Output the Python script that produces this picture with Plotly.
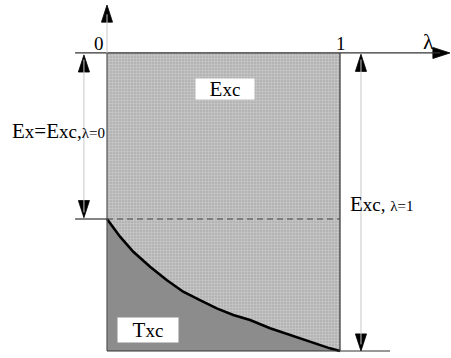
import plotly.graph_objects as go

# coupling constant lambda and the curve bounding T_xc, in units where
# E_x = 1 (dashed line) and the bottom of the box is 0
lam = [0.0, 0.056, 0.113, 0.185, 0.256, 0.327, 0.399, 0.471, 0.542,
       0.614, 0.700, 0.785, 0.871, 0.957, 1.0]
curve = [1.0, 0.866, 0.752, 0.639, 0.538, 0.449, 0.386, 0.323, 0.273,
         0.235, 0.172, 0.121, 0.070, 0.020, 0.0]

box_top = 2.258       # level of the lambda axis
ex_level = 1.0        # E_x = E_xc,lambda=0
tick_labels = ["0", "1"]
tick_pos = [0.0, 1.0]

FONT = "Liberation Serif"
W, H = 451, 358

fig = go.Figure()

# light area: the whole box 0..1
fig.add_trace(go.Scatter(
    x=[0, 1, 1, 0, 0], y=[0, 0, box_top, box_top, 0],
    mode="lines", line=dict(width=0), fill="toself",
    fillcolor="#c4c4c4",
    fillpattern=dict(shape="+", size=3, solidity=0.35,
                     fgcolor="#e2e2e2", bgcolor="#b4b4b4"),
    hoverinfo="skip", showlegend=False))

# dark area under the curve (T_xc)
fig.add_trace(go.Scatter(
    x=lam + [0], y=curve + [0],
    mode="lines", line=dict(width=0), fill="toself",
    fillcolor="#8c8c8c",
    hoverinfo="skip", showlegend=False))

# the curve itself
fig.add_trace(go.Scatter(
    x=lam, y=curve, mode="lines", line=dict(color="black", width=2.6),
    hoverinfo="skip", showlegend=False))

line_dark = dict(color="#333333", width=1.2)
line_gray = dict(color="#c8c8c8", width=1)

shapes = [
    # lambda axis
    dict(type="line", x0=-0.137, x1=1.43, y0=box_top, y1=box_top, line=line_dark),
    # vertical axis above the box
    dict(type="line", x0=0, x1=0, y0=box_top, y1=2.55, line=line_gray),
    # box edges
    dict(type="line", x0=0, x1=0, y0=0, y1=box_top, line=dict(color="#555555", width=1.2)),
    dict(type="line", x0=1, x1=1, y0=0, y1=box_top, line=dict(color="#333333", width=1.2)),
    # bottom line
    dict(type="line", x0=0, x1=1.215, y0=0, y1=0, line=line_dark),
    # tick at E_x level and dashed line
    dict(type="line", x0=-0.137, x1=0, y0=ex_level, y1=ex_level, line=line_dark),
    dict(type="line", x0=0, x1=1, y0=ex_level, y1=ex_level,
         line=dict(color="#444444", width=1.2, dash="6px,4px")),
    # double arrows
    dict(type="line", x0=-0.099, x1=-0.099, y0=ex_level + 0.05, y1=box_top - 0.05, line=line_gray),
    dict(type="line", x0=1.09, x1=1.09, y0=0.05, y1=box_top - 0.05, line=line_gray),
]

# arrow heads (tips)
fig.add_trace(go.Scatter(
    x=[0, -0.099, -0.099, 1.09, 1.09, 1.472],
    y=[2.621, box_top - 0.015, ex_level + 0.01, box_top - 0.01, 0.0, box_top],
    mode="markers",
    marker=dict(symbol="arrow", size=18, color="black",
                angle=[0, 0, 180, 0, 180, 90], line=dict(width=0.8, color="black")),
    hoverinfo="skip", showlegend=False))

ann = []
for t, p in zip(tick_labels, tick_pos):
    ann.append(dict(x=p - 0.034 if p == 0 else p + 0.004, y=2.333, text=t,
                    showarrow=False, font=dict(size=19)))
ann.append(dict(x=1.378, y=2.345, text="λ", showarrow=False, font=dict(size=22)))

ann.append(dict(x=0.506, y=1.985, text="E<span style='font-size:19px'>xc</span>",
                showarrow=False, bgcolor="white", width=56, height=18, font=dict(size=21)))
ann.append(dict(x=0.176, y=0.159, text="T<span style='font-size:19px'>xc</span>",
                showarrow=False, bgcolor="white", width=58, height=22, font=dict(size=21)))
ann.append(dict(x=0.0, y=1.667, xanchor="right",
                text="E<span style='font-size:19px'>x</span>=E<span style='font-size:19px'>xc,</span>"
                     "<span style='font-size:15px'>λ=0</span>",
                showarrow=False, font=dict(size=21)))
ann.append(dict(x=1.034, y=1.11, xanchor="left",
                text="E<span style='font-size:19px'>xc, </span><span style='font-size:15px'>λ=1</span>",
                showarrow=False, font=dict(size=21)))

fig.update_layout(
    width=W, height=H, autosize=False,
    margin=dict(l=0, r=0, t=0, b=0),
    paper_bgcolor="white", plot_bgcolor="white",
    font=dict(family=FONT, color="black"),
    xaxis=dict(range=[-107 / 233, 344 / 233], visible=False, fixedrange=True),
    yaxis=dict(range=[-7 / 132, 351 / 132], visible=False, fixedrange=True),
    shapes=shapes, annotations=ann, showlegend=False,
)

fig.write_html("out.html", config={"displayModeBar": False},
               post_script="document.body.style.margin='0';")
